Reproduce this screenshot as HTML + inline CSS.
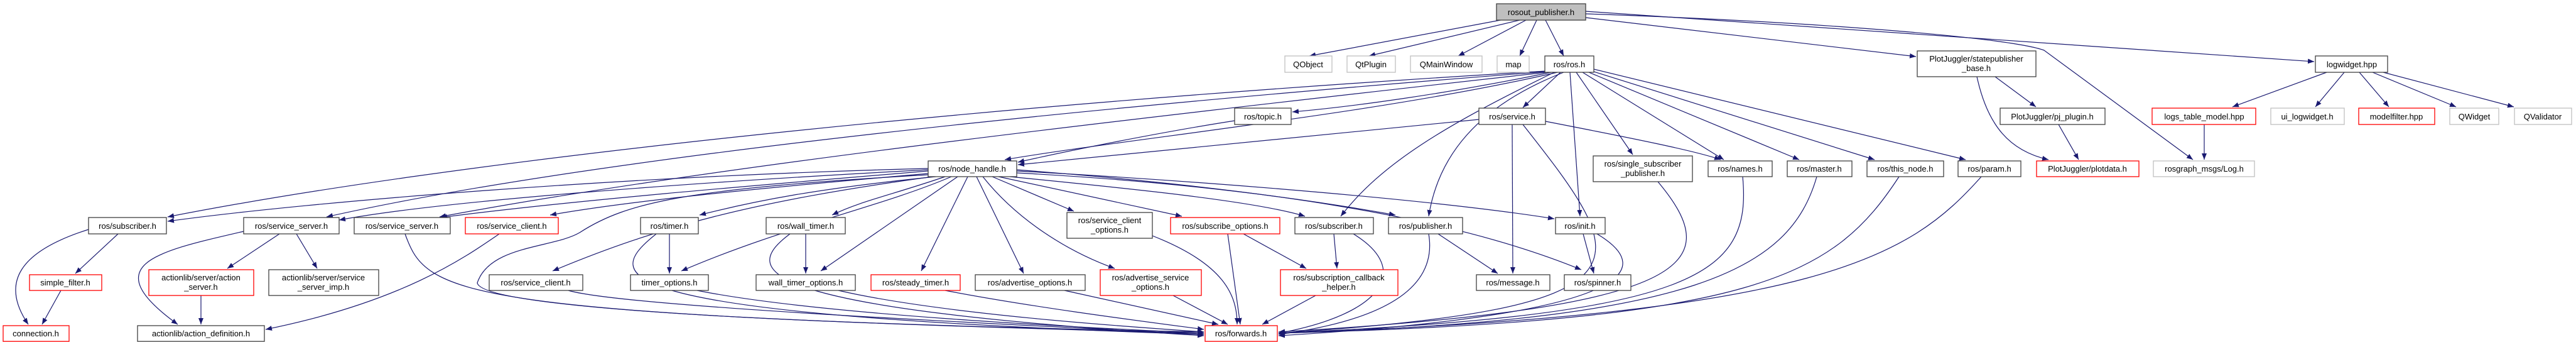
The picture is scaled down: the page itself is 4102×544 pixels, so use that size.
<!DOCTYPE html>
<html><head><meta charset="utf-8"><style>
html,body{margin:0;padding:0;background:#fff;}
svg{display:block;}
text{font-family:"Liberation Sans","DejaVu Sans",sans-serif;font-size:13px;fill:#000;text-anchor:middle;}
.e{fill:none;stroke:#191970;stroke-width:1.2;marker-end:url(#a);}
.n{fill:#fff;stroke:#404040;stroke-width:1.3;}
.r{fill:#fff;stroke:#ff0000;stroke-width:1.3;}
.g{fill:#fff;stroke:#bfbfbf;stroke-width:1.3;}
</style></head><body>
<svg width="4102" height="544" viewBox="0 0 4102 544" xmlns="http://www.w3.org/2000/svg">
<defs><marker id="a" markerUnits="userSpaceOnUse" markerWidth="11" markerHeight="8" refX="10" refY="4" orient="auto"><path d="M0,0 L10,4 L0,8 z" fill="#191970"/></marker></defs>
<g>
<path class="e" d="M2400,30 L2085,89"/>
<path class="e" d="M2420,32 L2180,89"/>
<path class="e" d="M2430,32 L2322,89"/>
<path class="e" d="M2447,32 L2420,89"/>
<path class="e" d="M2461,32 L2490,89"/>
<path class="e" d="M2525,28 L3051,90"/>
<path class="e" d="M2525,18 L3685,98"/>
<path class="e" d="M2525,22 C2900,35 3200,60 3255,80 L3492,254"/>
<path class="e" d="M2480,115 C2200,180 1800,220 1600,254"/>
<path class="e" d="M2470,115 C2300,150 2150,170 2058,178"/>
<path class="e" d="M2485,115 L2425,171"/>
<path class="e" d="M2462,113 C1500,170 700,260 267,345"/>
<path class="e" d="M2462,114 C1600,180 900,260 520,345"/>
<path class="e" d="M2463,115 C1700,200 1100,270 700,345"/>
<path class="e" d="M2475,115 C2300,200 2200,260 2135,344"/>
<path class="e" d="M2490,115 C2350,170 2290,250 2275,344"/>
<path class="e" d="M2500,115 L2516,344"/>
<path class="e" d="M2510,115 L2600,246"/>
<path class="e" d="M2520,115 L2745,254"/>
<path class="e" d="M2530,115 L2865,254"/>
<path class="e" d="M2535,113 L2985,254"/>
<path class="e" d="M2538,110 L3130,254"/>
<path class="e" d="M1966,192 C1850,210 1700,240 1621,258"/>
<path class="e" d="M2355,190 C2100,215 1800,245 1621,262"/>
<path class="e" d="M2408,198 L2409,435"/>
<path class="e" d="M2461,193 C2600,220 2700,240 2740,254"/>
<path class="e" d="M2425,198 C2600,420 2650,490 2036,530"/>
<path class="e" d="M1478,268 C1000,280 500,320 267,352"/>
<path class="e" d="M1478,270 C1100,290 700,320 540,350"/>
<path class="e" d="M1478,272 C1200,295 900,320 702,346"/>
<path class="e" d="M1478,276 C1200,300 1000,320 876,342"/>
<path class="e" d="M1490,281 C1300,300 1200,320 1114,342"/>
<path class="e" d="M1505,281 C1420,310 1370,320 1325,342"/>
<path class="e" d="M1525,281 L1307,431"/>
<path class="e" d="M1515,281 C1400,330 1250,360 1085,431"/>
<path class="e" d="M1485,281 C1200,320 1050,360 880,431"/>
<path class="e" d="M1541,281 L1467,431"/>
<path class="e" d="M1555,281 L1630,435"/>
<path class="e" d="M1565,281 C1620,350 1700,400 1775,427"/>
<path class="e" d="M1580,281 L1710,336"/>
<path class="e" d="M1590,281 L1882,344"/>
<path class="e" d="M1608,281 C1800,300 2000,320 2078,344"/>
<path class="e" d="M1619,275 C1900,290 2100,320 2222,342"/>
<path class="e" d="M1619,272 C1950,290 2300,320 2475,348"/>
<path class="e" d="M1619,270 C2000,300 2300,340 2518,429"/>
<path class="e" d="M1478,278 C1100,300 1000,320 923,370 C880,395 780,390 760,450 C770,500 1500,520 1917,528"/>
<path class="e" d="M141,365 C30,400 0,450 45,516"/>
<path class="e" d="M188,372 L120,435"/>
<path class="e" d="M97,462 L67,516"/>
<path class="e" d="M388,368 C250,400 150,420 283,516"/>
<path class="e" d="M445,372 L362,427"/>
<path class="e" d="M472,372 L505,427"/>
<path class="e" d="M320,470 L320,516"/>
<path class="e" d="M795,372 C740,410 640,480 423,524"/>
<path class="e" d="M645,372 C680,470 720,500 1917,530"/>
<path class="e" d="M1045,372 C960,440 940,500 1917,532"/>
<path class="e" d="M1066,372 L1066,435"/>
<path class="e" d="M1258,372 C1180,430 1190,490 1917,534"/>
<path class="e" d="M1283,372 L1283,435"/>
<path class="e" d="M1835,375 C1950,420 1970,470 1970,516"/>
<path class="e" d="M1955,372 L1975,516"/>
<path class="e" d="M1980,372 L2080,427"/>
<path class="e" d="M2124,372 L2129,427"/>
<path class="e" d="M2155,372 C2250,430 2200,500 2036,530"/>
<path class="e" d="M2275,372 C2290,460 2200,510 2036,532"/>
<path class="e" d="M2290,372 L2385,435"/>
<path class="e" d="M2521,372 L2538,435"/>
<path class="e" d="M2543,372 C2640,430 2600,500 2036,534"/>
<path class="e" d="M905,462 C1000,490 1700,520 1917,532"/>
<path class="e" d="M1110,462 C1300,500 1700,520 1917,530"/>
<path class="e" d="M1335,462 C1500,500 1800,520 1917,528"/>
<path class="e" d="M1505,462 C1650,490 1850,515 1917,524"/>
<path class="e" d="M1695,462 L1940,516"/>
<path class="e" d="M1868,470 L1955,516"/>
<path class="e" d="M2095,470 L2010,516"/>
<path class="e" d="M2640,289 C2750,420 2700,490 2036,528"/>
<path class="e" d="M2775,281 C2790,440 2700,500 2036,530"/>
<path class="e" d="M2893,281 C2850,430 2700,510 2036,530"/>
<path class="e" d="M3024,281 C2920,440 2800,510 2036,530"/>
<path class="e" d="M3155,281 C3040,410 2900,500 2036,530"/>
<path class="e" d="M3148,122 C3165,200 3200,240 3262,254"/>
<path class="e" d="M3177,122 L3242,170"/>
<path class="e" d="M3278,198 L3310,254"/>
<path class="e" d="M3705,115 L3555,170"/>
<path class="e" d="M3733,115 L3687,170"/>
<path class="e" d="M3757,115 L3804,170"/>
<path class="e" d="M3778,115 L3911,170"/>
<path class="e" d="M3795,115 L4003,170"/>
<path class="e" d="M3510,198 L3510,254"/>
</g>
<g>
<rect x="2383" y="6" width="142" height="26" fill="#bfbfbf" stroke="#404040" stroke-width="1.3"/><text x="2454" y="24">rosout_publisher.h</text>
<rect class="g" x="2046" y="89" width="75" height="26"/><text x="2083" y="107">QObject</text>
<rect class="g" x="2145" y="89" width="77" height="26"/><text x="2183" y="107">QtPlugin</text>
<rect class="g" x="2246" y="89" width="114" height="26"/><text x="2303" y="107">QMainWindow</text>
<rect class="g" x="2384" y="89" width="51" height="26"/><text x="2410" y="107">map</text>
<rect class="n" x="2460" y="89" width="78" height="26"/><text x="2499" y="107">ros/ros.h</text>
<rect class="n" x="3053" y="81" width="189" height="41"/><text x="3147" y="98">PlotJuggler/statepublisher</text><text x="3147" y="113">_base.h</text>
<rect class="n" x="3687" y="89" width="115" height="26"/><text x="3745" y="107">logwidget.hpp</text>
<rect class="n" x="1966" y="172" width="90" height="26"/><text x="2011" y="190">ros/topic.h</text>
<rect class="n" x="2355" y="172" width="106" height="26"/><text x="2408" y="190">ros/service.h</text>
<rect class="n" x="3185" y="172" width="167" height="26"/><text x="3268" y="190">PlotJuggler/pj_plugin.h</text>
<rect class="r" x="3427" y="172" width="165" height="26"/><text x="3510" y="190">logs_table_model.hpp</text>
<rect class="g" x="3616" y="172" width="117" height="26"/><text x="3674" y="190">ui_logwidget.h</text>
<rect class="r" x="3756" y="172" width="121" height="26"/><text x="3816" y="190">modelfilter.hpp</text>
<rect class="g" x="3901" y="172" width="78" height="26"/><text x="3940" y="190">QWidget</text>
<rect class="g" x="4004" y="172" width="91" height="26"/><text x="4049" y="190">QValidator</text>
<rect class="n" x="1478" y="256" width="141" height="25"/><text x="1548" y="273">ros/node_handle.h</text>
<rect class="n" x="2537" y="248" width="158" height="41"/><text x="2616" y="265">ros/single_subscriber</text><text x="2616" y="280">_publisher.h</text>
<rect class="n" x="2720" y="256" width="102" height="25"/><text x="2771" y="273">ros/names.h</text>
<rect class="n" x="2846" y="256" width="103" height="25"/><text x="2897" y="273">ros/master.h</text>
<rect class="n" x="2973" y="256" width="122" height="25"/><text x="3034" y="273">ros/this_node.h</text>
<rect class="n" x="3118" y="256" width="100" height="25"/><text x="3168" y="273">ros/param.h</text>
<rect class="r" x="3243" y="256" width="163" height="25"/><text x="3324" y="273">PlotJuggler/plotdata.h</text>
<rect class="g" x="3429" y="256" width="161" height="25"/><text x="3510" y="273">rosgraph_msgs/Log.h</text>
<rect class="n" x="141" y="346" width="124" height="26"/><text x="203" y="364">ros/subscriber.h</text>
<rect class="n" x="388" y="346" width="152" height="26"/><text x="464" y="364">ros/service_server.h</text>
<rect class="n" x="564" y="346" width="153" height="26"/><text x="640" y="364">ros/service_server.h</text>
<rect class="r" x="741" y="346" width="148" height="26"/><text x="815" y="364">ros/service_client.h</text>
<rect class="n" x="1020" y="346" width="92" height="26"/><text x="1066" y="364">ros/timer.h</text>
<rect class="n" x="1220" y="346" width="126" height="26"/><text x="1283" y="364">ros/wall_timer.h</text>
<rect class="n" x="1699" y="338" width="136" height="41"/><text x="1767" y="355">ros/service_client</text><text x="1767" y="370">_options.h</text>
<rect class="r" x="1864" y="346" width="174" height="26"/><text x="1951" y="364">ros/subscribe_options.h</text>
<rect class="n" x="2062" y="346" width="125" height="26"/><text x="2124" y="364">ros/subscriber.h</text>
<rect class="n" x="2211" y="346" width="118" height="26"/><text x="2270" y="364">ros/publisher.h</text>
<rect class="n" x="2477" y="346" width="79" height="26"/><text x="2516" y="364">ros/init.h</text>
<rect class="r" x="47" y="437" width="115" height="25"/><text x="104" y="454">simple_filter.h</text>
<rect class="r" x="237" y="429" width="167" height="41"/><text x="320" y="446">actionlib/server/action</text><text x="320" y="461">_server.h</text>
<rect class="n" x="428" y="429" width="175" height="41"/><text x="515" y="446">actionlib/server/service</text><text x="515" y="461">_server_imp.h</text>
<rect class="n" x="779" y="437" width="149" height="25"/><text x="853" y="454">ros/service_client.h</text>
<rect class="n" x="1004" y="437" width="124" height="25"/><text x="1066" y="454">timer_options.h</text>
<rect class="n" x="1204" y="437" width="158" height="25"/><text x="1283" y="454">wall_timer_options.h</text>
<rect class="r" x="1387" y="437" width="142" height="25"/><text x="1458" y="454">ros/steady_timer.h</text>
<rect class="n" x="1553" y="437" width="175" height="25"/><text x="1640" y="454">ros/advertise_options.h</text>
<rect class="r" x="1752" y="429" width="161" height="41"/><text x="1832" y="446">ros/advertise_service</text><text x="1832" y="461">_options.h</text>
<rect class="r" x="2039" y="429" width="187" height="41"/><text x="2132" y="446">ros/subscription_callback</text><text x="2132" y="461">_helper.h</text>
<rect class="n" x="2351" y="437" width="117" height="25"/><text x="2409" y="454">ros/message.h</text>
<rect class="n" x="2491" y="437" width="106" height="25"/><text x="2544" y="454">ros/spinner.h</text>
<rect class="r" x="5" y="518" width="105" height="25"/><text x="57" y="535">connection.h</text>
<rect class="n" x="219" y="518" width="202" height="25"/><text x="320" y="535">actionlib/action_definition.h</text>
<rect class="r" x="1919" y="518" width="115" height="25"/><text x="1976" y="535">ros/forwards.h</text>
</g>
</svg>
</body></html>
